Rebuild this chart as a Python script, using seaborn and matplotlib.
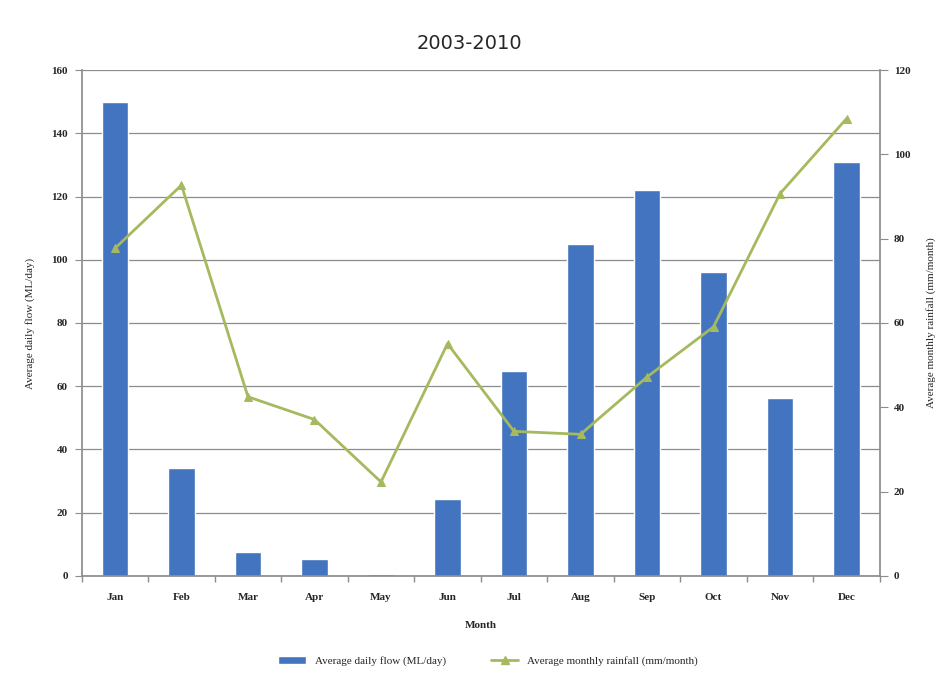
import numpy as np
import pandas as pd
import matplotlib
matplotlib.use("Agg")
import matplotlib.pyplot as plt
import seaborn as sns
from matplotlib.lines import Line2D
from matplotlib.patches import Patch

months = ["Jan", "Feb", "Mar", "Apr", "May", "Jun", "Jul", "Aug", "Sep", "Oct", "Nov", "Dec"]
flow = [150, 34, 7.5, 5.3, 0.6, 24.3, 64.7, 105, 122, 96, 56.4, 131]
rain = [77.7, 92.7, 42.5, 37.1, 22.3, 55.1, 34.3, 33.6, 47.2, 59.1, 90.7, 108.5]
left_ticks = [0, 20, 40, 60, 80, 100, 120, 140, 160]
right_ticks = [0, 20, 40, 60, 80, 100, 120]

sns.set_theme(style="white")
plt.rcParams["font.family"] = ["Liberation Serif", "DejaVu Serif"]

df = pd.DataFrame({"Month": months, "flow": flow, "rain": rain, "idx": np.arange(len(months))})

fig = plt.figure(figsize=(9.39, 6.8), dpi=100)
ax = fig.add_axes([0.087, 0.153, 0.850, 0.744])

bar_color = "#4374C0"
line_color = "#A5B95E"

for t in left_ticks:
    ax.axhline(t, color="#8c8c8c", lw=0.9, zorder=0)

sns.barplot(data=df, x="Month", y="flow", color=bar_color, width=0.4, ax=ax,
            saturation=1, zorder=2)
ax.set_ylim(0, 160)
ax.set_xlim(-0.5, len(months) - 0.5)
ax.set_yticks(left_ticks)
ax.set_yticklabels([str(t) for t in left_ticks], fontsize=8, fontweight="bold")
ax.set_xticklabels(months, fontsize=8, fontweight="bold")
ax.set_xlabel("Month", fontsize=8, fontweight="bold", labelpad=14)
ax.set_ylabel("Average daily flow (ML/day)", fontsize=8)
ax.yaxis.set_label_coords(-0.059, 0.5)
ax.tick_params(axis="y", length=5, width=0.8, color="#8c8c8c", direction="out", left=True, pad=5)
ax.tick_params(axis="x", length=0, pad=12)
ax.set_xticks(np.arange(-0.5, len(months), 1), minor=True)
ax.tick_params(axis="x", which="minor", length=4, color="#8c8c8c", bottom=True)
for s in ["top", "right"]:
    ax.spines[s].set_visible(False)
ax.spines["left"].set_color("#8c8c8c")
ax.spines["bottom"].set_color("#8c8c8c")

ax2 = ax.twinx()
sns.lineplot(data=df, x="idx", y="rain", color=line_color, lw=2, marker="^",
             markersize=6, markeredgecolor=line_color, ax=ax2, zorder=3)
ax2.set_ylim(0, 120)
ax2.set_xlim(-0.5, len(months) - 0.5)
ax2.set_yticks(right_ticks)
ax2.set_yticklabels([str(t) for t in right_ticks], fontsize=8, fontweight="bold")
ax2.set_ylabel("Average monthly rainfall (mm/month)", fontsize=8)
ax2.yaxis.set_label_coords(1.058, 0.5)
ax2.set_xlabel("")
ax2.tick_params(axis="y", length=6, width=0.8, color="#8c8c8c", direction="out", right=True, pad=4)
for s in ["top", "left", "bottom"]:
    ax2.spines[s].set_visible(False)
ax2.spines["right"].set_color("#8c8c8c")

fig.text(0.5, 0.936, "2003-2010", ha="center", va="center", fontsize=14,
         family="DejaVu Sans")

handles = [Patch(facecolor=bar_color, label="Average daily flow (ML/day)"),
           Line2D([0], [0], color=line_color, lw=2, marker="^", markersize=6,
                  label="Average monthly rainfall (mm/month)")]
fig.legend(handles=handles, loc="center", bbox_to_anchor=(0.52, 0.028), ncol=2,
           frameon=False, fontsize=8, handlelength=2.5, columnspacing=4)

fig.savefig("out.png", dpi=100)
